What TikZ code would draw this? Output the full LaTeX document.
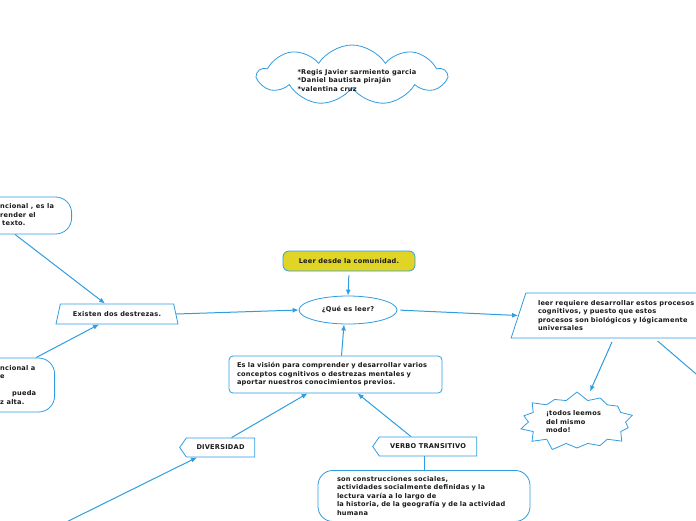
\documentclass[tikz,border=0pt]{standalone}
\usepackage{fontspec}
\setmainfont{DejaVu Sans}
\newfontfamily\mapfont{DejaVu Sans}[LetterSpace=3.5]
\usetikzlibrary{shapes.geometric,shapes.symbols,arrows.meta}
\definecolor{mapblue}{HTML}{2F9DE0}
\definecolor{mapyellow}{HTML}{E0D426}

\begin{document}
\begin{tikzpicture}[x=1pt,y=-1pt,
  every node/.style={font=\mapfont\fontsize{6.6}{8.5}\selectfont\bfseries, text=black!90},
  box/.style={draw=mapblue, line width=0.8pt, fill=white},
  link/.style={mapblue, line width=1pt, -{Latex[length=6pt,width=5pt]}},
  ]
\useasboundingbox (0,0) rectangle (696,520);

% autores
\node[box, cloud, cloud puffs=9, cloud puff arc=115, aspect=3, minimum width=188pt, minimum height=60pt] (nube) at (352,75) {};
\node[align=left, anchor=west] (autores) at (294,80.5) {*Regis Javier sarmiento garcia\\*Daniel bautista piraján\\*valentina cruz};

% centro
\node[box, fill=mapyellow, rounded corners=6pt, minimum width=132pt, minimum height=20pt] (lider) at (349,261) {Leer desde la comunidad.};
\node[box, ellipse, minimum width=98pt, minimum height=28pt] (pregunta) at (348,310) {¿Qué es leer?};
\node[box, rounded corners=4pt, text width=197pt, align=left, minimum height=37pt, inner xsep=8pt] (vision) at (335.5,374.5) {Es la visión para comprender y desarrollar varios\\conceptos cognitivos o destrezas mentales y\\aportar nuestros conocimientos previos.};

% izquierda
\node[box, trapezium, trapezium left angle=73, trapezium right angle=73, trapezium stretches=true, minimum width=122pt, minimum height=20pt] (destrezas) at (117,314) {Existen dos destrezas.};
\node[box, rounded corners=16pt, minimum width=160pt, minimum height=37pt, anchor=east] (funcional) at (72,215.5) {};
\node[anchor=west, inner sep=0pt] (funcionaltxt) at (0,215.5) {\begin{tabular}{@{}l@{}}ncional , es la\\render el\\\hspace*{2pt}texto.\end{tabular}};
\node[box, rounded corners=16pt, minimum width=160pt, minimum height=54pt, anchor=east] (oral) at (55,385) {};
\node[anchor=west, inner sep=0pt] (oraltxt) at (0,385.5) {\begin{tabular}{@{}l@{}}ncional a\\e\\\mbox{}\\\hspace*{12pt}pueda\\z alta.\end{tabular}};

% derecha
\node[box, trapezium, trapezium left angle=70, trapezium right angle=110, trapezium stretches=true, minimum width=260pt, minimum height=45pt, text width=206pt, align=left] (requiere) at (641,315.5) {leer requiere desarrollar estos procesos\\cognitivos, y puesto que estos\\procesos son biológicos y lógicamente\\universales};
\node[box, starburst, starburst points=14, starburst point height=9pt, random starburst=40, minimum width=100pt, minimum height=62pt, text width=62pt, align=left] (todos) at (577,422) {¡todos leemos\\del mismo\\modo!};

% abajo
\node[box, signal, signal to=west, signal pointer angle=110, minimum width=75pt, minimum height=19pt] (diversidad) at (220.5,447.5) {DIVERSIDAD};
\node[box, signal, signal to=west, signal pointer angle=110, minimum width=104pt, minimum height=19pt] (verbo) at (428,446.5) {VERBO TRANSITIVO};
\node[box, rounded corners=15pt, text width=174pt, align=left, anchor=north, inner xsep=19pt, inner ysep=6pt] (conexion) at (424,470) {son construcciones sociales,\\actividades socialmente definidas y la\\lectura varía a lo largo de\\la historia, de la geografía y de la actividad\\humana};

\coordinate (abajo) at (30,540);
\coordinate (fuera) at (716,391);

% conectores
\draw[link] ([xshift=-57pt]funcional.south east) -- ([xshift=-12pt]destrezas.north);
\draw[link] ([xshift=-19pt]oral.north east) -- ([xshift=-18pt]destrezas.south);
\draw[link] (destrezas.east) -- (pregunta.west);
\draw[link, shorten <=4pt] (lider.south) -- (pregunta.north);
\draw[link, shorten <=3pt] (pregunta.east) -- (requiere.west);
\draw[link] ([xshift=6pt]vision.north) -- ([xshift=-4pt]pregunta.south);
\draw[link] ([xshift=11pt]diversidad.north) -- ([xshift=-28pt]vision.south);
\draw[link] ([xshift=-17pt]verbo.north) -- ([xshift=22pt]vision.south);
\draw[link, -] ([xshift=-4pt]verbo.south) -- (conexion.north);
\draw[link] (abajo) -- ([xshift=-23.5pt]diversidad.south);
\draw[link, shorten <=4pt] ([xshift=103pt]requiere.bottom left corner) -- ([xshift=13pt]todos.north);
\draw[link, -, shorten <=4pt] ([xshift=144pt]requiere.bottom left corner) -- (fuera);
\end{tikzpicture}
\end{document}
